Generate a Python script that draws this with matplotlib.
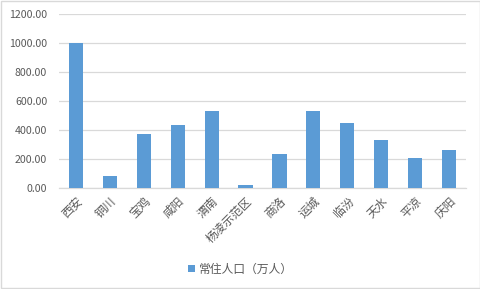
import matplotlib
matplotlib.use("Agg")
import matplotlib.pyplot as plt
from matplotlib.patches import Rectangle

plt.rcParams["font.family"] = ["Noto Sans CJK SC", "DejaVu Sans"]

# data
cities = ["西安", "铜川", "宝鸡", "咸阳", "渭南", "杨凌示范区", "商洛", "运城", "临汾", "天水", "平凉", "庆阳"]
population = [996, 80, 372, 434, 530, 18, 233, 530, 447, 329, 204, 260]
y_ticks = [0, 200, 400, 600, 800, 1000, 1200]

BAR_COLOR = "#5B9BD5"
GRID_COLOR = "#D9D9D9"
TEXT_COLOR = "#595959"

fig = plt.figure(figsize=(4.81, 2.89), dpi=100)
ax = fig.add_axes([0.1227, 0.3512, 0.8461, 0.6004])

x = range(len(cities))
ax.bar(x, population, width=0.42, color=BAR_COLOR, label="常住人口（万人）", zorder=3)

ax.set_xlim(-0.5, len(cities) - 0.5)
ax.set_ylim(0, 1200)
ax.set_yticks(y_ticks)
ax.set_yticklabels([f"{v:.2f}" for v in y_ticks], fontsize=7.6, color=TEXT_COLOR)
ax.set_xticks(list(x))
ax.set_xticklabels(cities, rotation=45, ha="right", rotation_mode="anchor",
                   fontsize=8.5, color=TEXT_COLOR)
ax.tick_params(axis="y", length=0, pad=8.5)
ax.tick_params(axis="x", length=0, pad=5)
ax.grid(axis="y", color=GRID_COLOR, lw=0.9, zorder=0)
for side in ["top", "right", "left"]:
    ax.spines[side].set_visible(False)
ax.spines["bottom"].set_color(GRID_COLOR)
ax.spines["bottom"].set_linewidth(0.9)

fig.legend(loc="center", bbox_to_anchor=(0.5, 1 - 269 / 289), frameon=False,
           fontsize=8.5, handlelength=0.6, handleheight=0.6, handletextpad=0.3,
           labelcolor=TEXT_COLOR)

fig.patches.append(Rectangle((0.002, 0.003), 0.995, 0.994, transform=fig.transFigure,
                             fill=False, edgecolor=GRID_COLOR, lw=1))

fig.savefig("out.png", dpi=100)
